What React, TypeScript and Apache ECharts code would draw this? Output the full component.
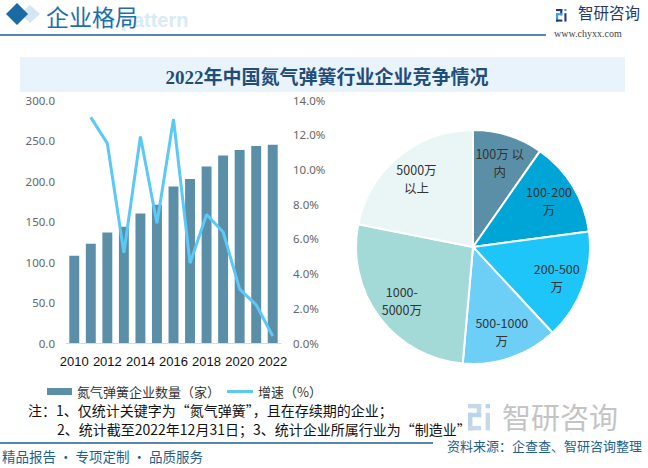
import React, { useEffect, useRef } from 'react';
import * as echarts from 'echarts';

const years = ['2010', '2011', '2012', '2013', '2014', '2015', '2016', '2017', '2018', '2019', '2020', '2021', '2022'];
const companyCounts = [107.7, 122.5, 136.5, 143.4, 159.9, 170.6, 193.2, 202.6, 217.8, 231.4, 238.4, 243.3, 244.6];
const growthRates = [null, 13.0, 11.5, 5.2, 11.9, 6.9, 12.9, 4.6, 7.4, 6.4, 3.1, 2.2, 0.4];

const capitalBands = ['100万以内', '100-200万', '200-500万', '500-1000万', '1000-5000万', '5000万以上'];
const capitalLabels = ['100万 以\n内', '100-200\n万', '200-500\n万', '500-1000\n万', '1000-\n5000万', '5000万\n以上'];
const capitalShares = [9.7, 13.2, 15.2, 13.3, 26.7, 21.9];

const barName = '氮气弹簧企业数量（家）';
const lineName = '增速（%）';
const titleText = '2022年中国氮气弹簧行业企业竞争情况';
const note1 = '注：1、仅统计关键字为“氮气弹簧”，且在存续期的企业；';
const note2 = '2、统计截至2022年12月31日；3、统计企业所属行业为“制造业”';
const sourceText = '资料来源：企查查、智研咨询整理';
const sloganText = '精品报告 · 专项定制 · 品质服务';

const pieColors = ['#5b8fa8', '#00a5d8', '#1ec5f9', '#6dcff5', '#a3d9d6', '#eaf6f6'];
const CJK = '"Noto Sans CJK SC", "Microsoft YaHei", sans-serif';

function logoIcon(x: number, y: number, s: number, dark: string, light: string) {
  const r = (rx: number, ry: number, w: number, h: number, c: string) => ({
    type: 'rect',
    shape: { x: x + rx * s, y: y + ry * s, width: w * s, height: h * s },
    style: { fill: c },
  });
  return [
    r(0, 0, 6, 2, dark),
    r(4, 0, 2, 6, dark),
    r(0, 4, 6, 2, light),
    r(0, 4, 2, 8, light),
    r(0, 10, 6, 2, dark),
    r(8, 0, 2, 2, light),
    r(8, 4, 2, 8, dark),
  ];
}

export default function App() {
  const ref = useRef<HTMLDivElement>(null);
  useEffect(() => {
    if (!ref.current) return;
    const chart = echarts.init(ref.current, null, { renderer: 'svg' });
    const pieData = capitalBands.map((n, i) => ({ name: n, value: capitalShares[i], itemStyle: { color: pieColors[i] } }));
    const labelData = capitalBands.map((n, i) => ({ name: n, value: capitalShares[i], label: { formatter: capitalLabels[i] } }));

    chart.setOption({
      animation: false,
      backgroundColor: '#ffffff',
      title: {
        text: titleText,
        left: 322,
        textAlign: 'center',
        top: 63,
        textStyle: {
          fontFamily: '"Liberation Serif", "Noto Sans CJK SC", serif',
          fontWeight: 'bold',
          fontSize: 19,
          color: '#1f4e79',
        },
      },
      grid: { left: 66, right: 367, top: 100, bottom: 125 },
      legend: [
        {
          left: 42,
          top: 380,
          itemWidth: 25,
          itemHeight: 7,
          itemGap: 10,
          data: [{ name: barName, icon: 'rect' }],
          textStyle: { fontSize: 13, color: '#333', fontFamily: CJK },
        },
        {
          left: 222,
          top: 380,
          itemWidth: 26,
          itemHeight: 3,
          data: [{ name: lineName, icon: 'rect' }],
          textStyle: { fontSize: 13, color: '#333', fontFamily: CJK },
        },
      ],
      xAxis: {
        type: 'category',
        data: years,
        axisLine: { lineStyle: { color: '#d9d9d9' } },
        axisTick: { show: false },
        axisLabel: { interval: 1, color: '#111', fontSize: 13, margin: 12, fontFamily: '"Liberation Sans", Arial, sans-serif' },
      },
      yAxis: [
        {
          type: 'value',
          min: 0,
          max: 300,
          interval: 50,
          splitLine: { show: false },
          axisLine: { show: false },
          axisTick: { show: false },
          axisLabel: { formatter: (v: number) => v.toFixed(1), color: '#666', fontSize: 11.5, margin: 11, fontFamily: '"Noto Sans", sans-serif' },
        },
        {
          type: 'value',
          min: 0,
          max: 14,
          interval: 2,
          splitLine: { show: false },
          axisLine: { show: false },
          axisTick: { show: false },
          axisLabel: { formatter: (v: number) => v.toFixed(1) + '%', color: '#666', fontSize: 11.5, margin: 12, fontFamily: '"Noto Sans", sans-serif' },
        },
      ],
      series: [
        {
          name: barName,
          type: 'bar',
          data: companyCounts,
          barWidth: '60%',
          itemStyle: { color: '#5b8fa8' },
          yAxisIndex: 0,
        },
        {
          name: lineName,
          type: 'line',
          data: growthRates,
          yAxisIndex: 1,
          showSymbol: false,
          symbol: 'none',
          lineStyle: { width: 3, color: '#5bc8f5' },
          itemStyle: { color: '#5bc8f5' },
        },
        {
          name: 'capital',
          type: 'pie',
          center: [473, 247],
          radius: [0, 117],
          startAngle: 90,
          clockwise: true,
          data: pieData,
          label: { show: false },
          labelLine: { show: false },
          itemStyle: { borderColor: '#ffffff', borderWidth: 2 },
          silent: true,
        },
        {
          name: 'capitalLabels',
          type: 'pie',
          center: [473, 247],
          radius: [55, 117],
          startAngle: 90,
          clockwise: true,
          data: labelData,
          silent: true,
          itemStyle: { color: 'rgba(0,0,0,0)' },
          label: {
            show: true,
            position: 'inside',
            color: '#333',
            fontSize: 12.5,
            lineHeight: 18,
            fontFamily: CJK,
          },
          labelLine: { show: false },
        },
      ],
      graphic: [
        // header
        { type: 'text', left: 104, top: 10, z: 1, style: { text: 'e pattern', fill: '#d8eaf7', font: 'bold 20px "Liberation Sans", Arial, sans-serif', lineHeight: 20 } },
        { type: 'polygon', z: 2, shape: { points: [[30, 5], [40, 14], [30, 23], [20, 14]] }, style: { fill: '#d5e6f3' } },
        { type: 'polygon', z: 3, shape: { points: [[17, 3], [28, 14], [17, 25], [6, 14]] }, style: { fill: '#1a6aa6' } },
        { type: 'text', left: 46, top: 3, z: 3, style: { text: '企业格局', fill: '#1f6fa5', font: '23px "Noto Sans CJK SC", sans-serif', lineHeight: 25 } },
        { type: 'line', z: 3, shape: { x1: 0, y1: 35, x2: 546, y2: 35 }, style: { stroke: '#1f5f8b', lineWidth: 1.5 } },
        ...logoIcon(556, 9, 1.05, '#1f3c7a', '#3a9ee0'),
        { type: 'text', left: 578, top: 4, style: { text: '智研咨询', fill: '#1f3c6a', font: '15.5px "Noto Sans CJK SC", sans-serif' } },
        { type: 'text', left: 554, top: 28, style: { text: 'www.chyxx.com', fill: '#444', font: '10px "Liberation Serif", serif' } },
        // title band
        { type: 'rect', z: -1, shape: { x: 20, y: 57, width: 605, height: 35 }, style: { fill: '#e8f3fb' } },
        // watermark logo bottom right
        ...logoIcon(468, 404, 2.2, '#c9d8e8', '#bcd5ee'),
        { type: 'text', left: 502, top: 401, style: { text: '智研咨询', fill: '#c4c4c4', font: '29px "Noto Sans CJK SC", sans-serif', lineHeight: 29 } },
        // notes
        { type: 'text', left: 28, top: 403, style: { text: note1, fill: '#111', font: '14px "Noto Sans CJK SC", sans-serif' } },
        { type: 'text', left: 57, top: 422, style: { text: note2, fill: '#111', font: '14px "Noto Sans CJK SC", sans-serif' } },
        { type: 'line', shape: { x1: 0, y1: 443, x2: 433, y2: 443 }, style: { stroke: '#1f5f8b', lineWidth: 1.5 } },
        { type: 'text', left: 447, top: 437, style: { text: sourceText, fill: '#1f5f8b', font: '13px "Noto Sans CJK SC", sans-serif', lineHeight: 16 } },
        { type: 'text', left: 2, top: 449, style: { text: sloganText, fill: '#1f5f8b', font: '13.5px "Noto Sans CJK SC", sans-serif' } },
      ],
    });
    return () => chart.dispose();
  }, []);
  return <div ref={ref} style={{ position: 'fixed', left: 0, top: 0, width: 648, height: 468 }} />;
}
